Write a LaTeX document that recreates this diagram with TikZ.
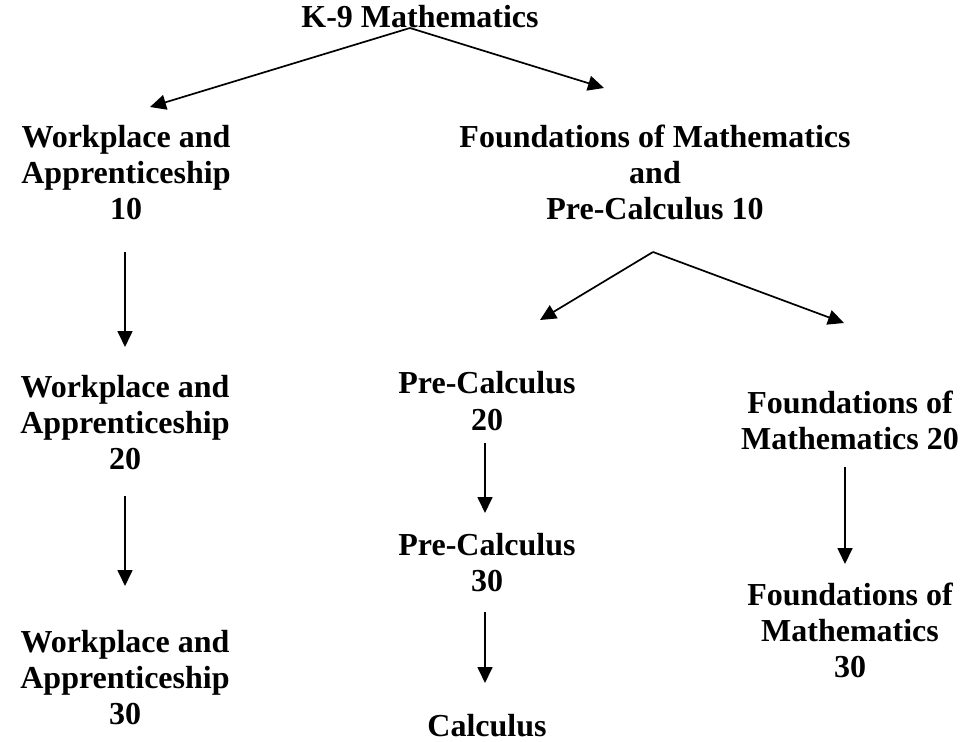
\documentclass[tikz,border=0pt]{standalone}
\usepackage{fontspec}
\setmainfont{Liberation Serif}
\usetikzlibrary{arrows.meta}
\newcommand{\mlines}[1]{\begin{tabular}[t]{@{}c@{}}#1\end{tabular}}
\begin{document}
\begin{tikzpicture}[x=1pt,y=-1pt,
  lbl/.style={inner sep=0pt, anchor=base, font=\fontsize{32}{36}\selectfont\bfseries},
  arr/.style={line width=1.7pt, -{Triangle[length=16pt,width=15pt]}}]
\useasboundingbox (0,0) rectangle (971,741);
% text nodes
\node[lbl] (k9) at (420,28) {K-9 Mathematics};
\node[lbl] (wa10) at (126,147) {\mlines{Workplace and\\Apprenticeship\\10}};
\node[lbl] (fpc10) at (655,147) {\mlines{Foundations of Mathematics\\and\\Pre-Calculus 10}};
\node[lbl] (wa20) at (125,397) {\mlines{Workplace and\\Apprenticeship\\20}};
\node[lbl] (pc20) at (487,393) {\mlines{Pre-Calculus\\[1pt]20}};
\node[lbl] (fm20) at (850,413) {\mlines{Foundations of\\Mathematics 20}};
\node[lbl] (pc30) at (487,555) {\mlines{Pre-Calculus\\30}};
\node[lbl] (fm30) at (850,605) {\mlines{Foundations of\\Mathematics\\30}};
\node[lbl] (wa30) at (125,652) {\mlines{Workplace and\\Apprenticeship\\30}};
\node[lbl] (calc) at (487,736) {Calculus};
% connector end points
\coordinate (k9o) at (410,28);
\coordinate (wa10i) at (150,107);
\coordinate (fpc10i) at (604,88);
\coordinate (fpc10o) at (653,252);
\coordinate (pc20i) at (540,320);
\coordinate (fm20i) at (844,323);
\coordinate (wa10o) at (125,252);
\coordinate (wa20i) at (125,347);
\coordinate (wa20o) at (125,496);
\coordinate (wa30i) at (125,586);
\coordinate (pc20o) at (485,443);
\coordinate (pc30i) at (485,513);
\coordinate (pc30o) at (485,612);
\coordinate (calci) at (485,683);
\coordinate (fm20o) at (845,467);
\coordinate (fm30i) at (845,564);
% connectors
\draw[arr] (k9o) -- (wa10i);
\draw[arr] (k9o) -- (fpc10i);
\draw[arr] (fpc10o) -- (pc20i);
\draw[arr] (fpc10o) -- (fm20i);
\draw[arr] (wa10o) -- (wa20i);
\draw[arr] (wa20o) -- (wa30i);
\draw[arr] (pc20o) -- (pc30i);
\draw[arr] (pc30o) -- (calci);
\draw[arr] (fm20o) -- (fm30i);
\end{tikzpicture}
\end{document}
